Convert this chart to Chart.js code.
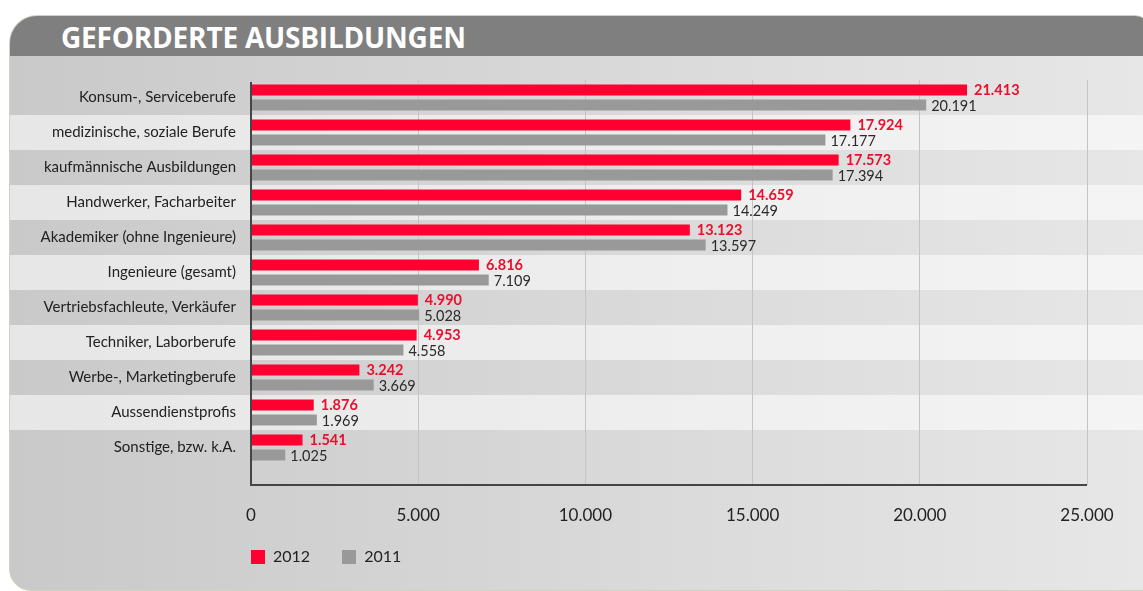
<!DOCTYPE html>
<html>
<head>
<meta charset="utf-8">
<script src="https://cdn.jsdelivr.net/npm/chart.js@4.4.1/dist/chart.umd.min.js"></script>
<style>
  body { margin: 0; background: #fff; width: 1143px; height: 591px; overflow: hidden; position: relative; font-family: Lato, "Open Sans", sans-serif; }
  #panel { position: absolute; left: 9px; top: 15px; width: 1140px; height: 574px; border: 1px solid #d2d2c2;
           border-radius: 28px 16px 0 22px; background: linear-gradient(to right, #c9c9c9, #e7e7e7); overflow: hidden; }
  #header { position: absolute; left: 0; top: 0; right: 0; height: 40px; background: #7f7f7f; }
  #title { position: absolute; left: 51px; top: 2px; color: #fff; font: bold 28px "Open Sans", sans-serif; letter-spacing: -0.2px; }
  #chartBox { position: absolute; left: 0; top: 0; width: 1143px; height: 591px; }
  #legend { position: absolute; left: 251px; top: 546px; font: 16px Lato, sans-serif; color: #222; }
  #legend span.item { display: inline-block; margin-right: 32px; }
  #legend span.sw { display: inline-block; width: 14px; height: 14px; vertical-align: -2px; margin-right: 8px; }
</style>
</head>
<body>
<div id="panel"><div id="header"><div id="title">GEFORDERTE AUSBILDUNGEN</div></div></div>
<div id="chartBox"><canvas id="chart" width="1143" height="591"></canvas></div>
<div id="legend"></div>
<script>
const categories = [
    "Konsum-, Serviceberufe",
    "medizinische, soziale Berufe",
    "kaufmännische Ausbildungen",
    "Handwerker, Facharbeiter",
    "Akademiker (ohne Ingenieure)",
    "Ingenieure (gesamt)",
    "Vertriebsfachleute, Verkäufer",
    "Techniker, Laborberufe",
    "Werbe-, Marketingberufe",
    "Aussendienstprofis",
    "Sonstige, bzw. k.A."
];
const values2012 = [21413, 17924, 17573, 14659, 13123, 6816, 4990, 4953, 3242, 1876, 1541];
const values2011 = [20191, 17177, 17394, 14249, 13597, 7109, 5028, 4558, 3669, 1969, 1025];
const xTicks = [0, 5000, 10000, 15000, 20000, 25000];

const red = "#ff0030";
const grey = "#999999";

function fmt(v) {
    return String(v).replace(/\B(?=(\d{3})+(?!\d))/g, ".");
}

// alternating row bands behind the chart
const rowBands = {
    id: "rowBands",
    beforeDraw(chart) {
        const ctx = chart.ctx;
        const y = chart.scales.y;
        const h = (chart.chartArea.bottom - chart.chartArea.top) / categories.length;
        ctx.save();
        ctx.fillStyle = "rgba(255,255,255,0.55)";
        categories.forEach((c, i) => {
            if (i % 2 === 1) {
                const cy = y.getPixelForValue(i);
                ctx.fillRect(10, cy - h / 2, chart.width - 10, h);
            }
        });
        ctx.restore();
    }
};

// axis lines, extended below the last row
const axisLines = {
    id: "axisLines",
    afterDatasetsDraw(chart) {
        const ctx = chart.ctx;
        const a = chart.chartArea;
        const ext = chart.options.scales.x.grid.tickLength;
        ctx.save();
        ctx.strokeStyle = "#454545";
        ctx.lineWidth = 2;
        ctx.beginPath();
        ctx.moveTo(a.left, a.top + 2);
        ctx.lineTo(a.left, a.bottom + ext);
        ctx.lineTo(a.right, a.bottom + ext);
        ctx.stroke();
        ctx.restore();
    }
};

// value labels at the end of each bar
const valueLabels = {
    id: "valueLabels",
    afterDatasetsDraw(chart) {
        const ctx = chart.ctx;
        ctx.save();
        ctx.textBaseline = "middle";
        chart.data.datasets.forEach((ds, di) => {
            const meta = chart.getDatasetMeta(di);
            meta.data.forEach((bar, i) => {
                if (di === 0) {
                    ctx.font = "bold 14.5px Lato, sans-serif";
                    ctx.fillStyle = "#e8102c";
                    ctx.fillText(fmt(ds.data[i]), bar.x + 7, bar.y);
                } else {
                    ctx.font = "14.5px Lato, sans-serif";
                    ctx.fillStyle = "#2a2a2a";
                    ctx.fillText(fmt(ds.data[i]), bar.x + 5, bar.y + 1);
                }
            });
        });
        ctx.restore();
    }
};

const ctx = document.getElementById("chart").getContext("2d");
const chart = new Chart(ctx, {
    type: "bar",
    data: {
        labels: categories,
        datasets: [
            { label: "2012", data: values2012, backgroundColor: red, categoryPercentage: 0.86, barPercentage: 0.74 },
            { label: "2011", data: values2011, backgroundColor: grey, categoryPercentage: 0.86, barPercentage: 0.74 }
        ]
    },
    options: {
        indexAxis: "y",
        responsive: false,
        animation: false,
        layout: { padding: { top: 80, right: 56, bottom: 66, left: 0 } },
        plugins: {
            legend: { display: false },
            tooltip: { enabled: false }
        },
        scales: {
            x: {
                min: 0,
                max: 25000,
                afterBuildTicks(scale) {
                    scale.ticks = xTicks.map(v => ({ value: v }));
                },
                afterFit(scale) { scale.height = 60; },
                border: { display: false },
                grid: { color: "#c4c4c4", lineWidth: 1, tickLength: 20, drawTicks: true },
                ticks: {
                    padding: 20,
                    color: "#222",
                    font: { family: "Lato", size: 17 },
                    callback: v => fmt(v)
                }
            },
            y: {
                afterFit(scale) { scale.width = 251; },
                border: { display: false },
                grid: { display: false, drawTicks: false },
                ticks: {
                    padding: 15,
                    color: "#222",
                    font: { family: "Lato", size: 15 }
                }
            }
        }
    },
    plugins: [rowBands, axisLines, valueLabels]
});

const legend = document.getElementById("legend");
chart.data.datasets.forEach(ds => {
    const item = document.createElement("span");
    item.className = "item";
    item.innerHTML = '<span class="sw" style="background:' + ds.backgroundColor + '"></span>' + ds.label;
    legend.appendChild(item);
});
</script>
</body>
</html>
